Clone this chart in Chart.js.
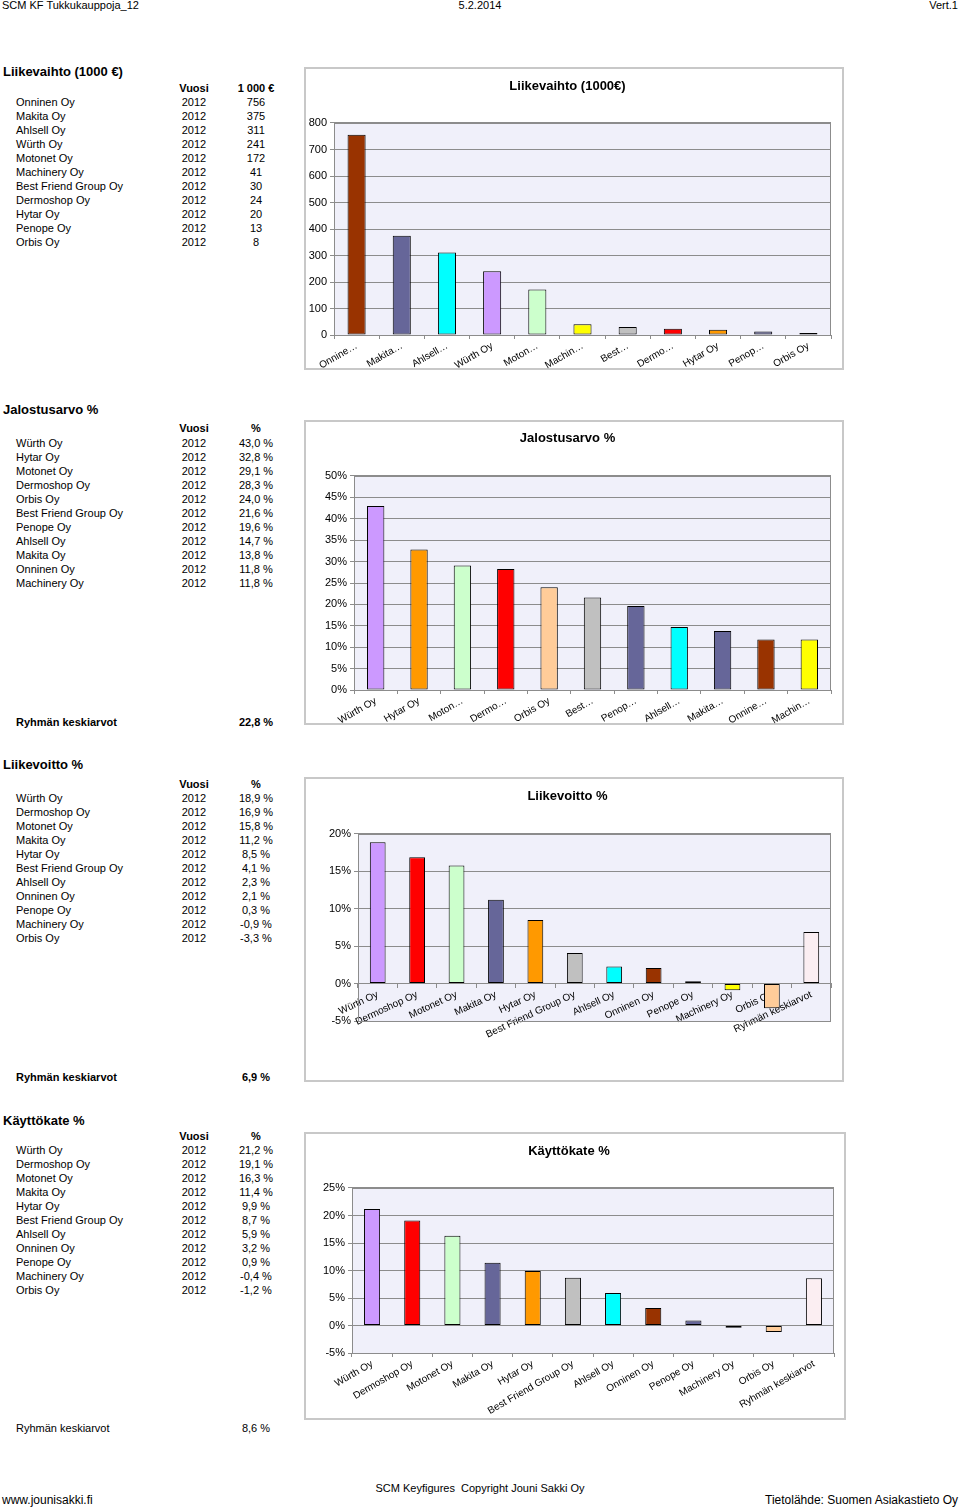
<!DOCTYPE html>
<html><head><meta charset="utf-8">
<script src="https://cdn.jsdelivr.net/npm/chart.js@4/dist/chart.umd.min.js"></script>
<style>
body{margin:0;width:960px;height:1508px;position:relative;background:#fff;font-family:"Liberation Sans",Arial,sans-serif;color:#000;overflow:hidden}
.t{position:absolute;white-space:pre;font-size:11px;line-height:14px}
.b{font-weight:bold}
.f{font-size:12px}
.h{font-weight:bold;font-size:13px;line-height:16px}
canvas{position:absolute}
</style></head><body>
<div id="texts"></div>
<canvas id="c1"></canvas><canvas id="c2"></canvas><canvas id="c3"></canvas><canvas id="c4"></canvas>
<script>
// ---------- data ----------
const yearValue = '2012';
const avgLabel = 'Ryhmän keskiarvot';

const lvNames  = ['Onninen Oy','Makita Oy','Ahlsell Oy','Würth Oy','Motonet Oy','Machinery Oy','Best Friend Group Oy','Dermoshop Oy','Hytar Oy','Penope Oy','Orbis Oy'];
const lvValues = [756,375,311,241,172,41,30,24,20,13,8];
const lvTicks  = ['Onnine…','Makita…','Ahlsell…','Würth Oy','Moton…','Machin…','Best…','Dermo…','Hytar Oy','Penop…','Orbis Oy'];
const lvYTicks = [0,800,100];

const jaNames  = ['Würth Oy','Hytar Oy','Motonet Oy','Dermoshop Oy','Orbis Oy','Best Friend Group Oy','Penope Oy','Ahlsell Oy','Makita Oy','Onninen Oy','Machinery Oy'];
const jaValues = [43.0,32.8,29.1,28.3,24.0,21.6,19.6,14.7,13.8,11.8,11.8];
const jaTicks  = ['Würth Oy','Hytar Oy','Moton…','Dermo…','Orbis Oy','Best…','Penop…','Ahlsell…','Makita…','Onnine…','Machin…'];
const jaAverage = 22.8;
const jaYTicks = [0,50,5];

const lvoNames  = ['Würth Oy','Dermoshop Oy','Motonet Oy','Makita Oy','Hytar Oy','Best Friend Group Oy','Ahlsell Oy','Onninen Oy','Penope Oy','Machinery Oy','Orbis Oy'];
const lvoValues = [18.9,16.9,15.8,11.2,8.5,4.1,2.3,2.1,0.3,-0.9,-3.3];
const lvoAverage = 6.9;
const lvoYTicks = [-5,20,5];

const kkNames  = ['Würth Oy','Dermoshop Oy','Motonet Oy','Makita Oy','Hytar Oy','Best Friend Group Oy','Ahlsell Oy','Onninen Oy','Penope Oy','Machinery Oy','Orbis Oy'];
const kkValues = [21.2,19.1,16.3,11.4,9.9,8.7,5.9,3.2,0.9,-0.4,-1.2];
const kkAverage = 8.6;
const kkYTicks = [-5,25,5];

// ---------- styles ----------
const companyColors = {
  'Würth Oy':'#cc99ff','Hytar Oy':'#ff9900','Motonet Oy':'#ccffcc','Dermoshop Oy':'#ff0000',
  'Orbis Oy':'#ffcc99','Best Friend Group Oy':'#c0c0c0','Penope Oy':'#666699','Ahlsell Oy':'#00ffff',
  'Makita Oy':'#666699','Onninen Oy':'#993300','Machinery Oy':'#ffff00','Ryhmän keskiarvot':'#fbeef2'
};
const FONT = '"Liberation Sans", Arial, sans-serif';

// ---------- text ----------
const T = document.getElementById('texts');
function txt(s, x, y, align, cls){
  const d = document.createElement('div');
  d.className = 't' + (cls ? ' ' + cls : '');
  d.textContent = s;
  const lh = (cls && cls.indexOf('h')>=0) ? 16 : 14;
  d.style.top = (y - lh/2) + 'px';
  if (align === 'center'){ d.style.left = (x-150)+'px'; d.style.width='300px'; d.style.textAlign='center'; }
  else if (align === 'right'){ d.style.right = (960-x)+'px'; }
  else d.style.left = x + 'px';
  T.appendChild(d);
}
const pctFmt = v => v.toFixed(1).replace('.', ',') + ' %';

txt('SCM KF Tukkukauppoja_12', 2, 5);
txt('5.2.2014', 480, 5, 'center');
txt('Vert.1', 958, 5, 'right');
txt('SCM Keyfigures  Copyright Jouni Sakki Oy', 480, 1488, 'center');
txt('www.jounisakki.fi', 2, 1500, null, 'f');
txt('Tietolähde: Suomen Asiakastieto Oy', 958, 1500, 'right', 'f');

function table(title, titleY, headY, valHead, rowY, names, vals, fmt, avg, avgY, avgBold){
  txt(title, 3, titleY, null, 'h');
  txt('Vuosi', 194, headY, 'center', 'b');
  txt(valHead, 256, headY, 'center', 'b');
  names.forEach((n,i)=>{
    const y = rowY + i*13.95;
    txt(n, 16, y);
    txt(yearValue, 194, y, 'center');
    txt(fmt(vals[i]), 256, y, 'center');
  });
  if (avg !== undefined){
    txt(avgLabel, 16, avgY, null, avgBold ? 'b' : '');
    txt(fmt(avg), 256, avgY, 'center', avgBold ? 'b' : '');
  }
}
table('Liikevaihto (1000 €)', 72, 88, '1 000 €', 102, lvNames, lvValues, v=>String(v));
table('Jalostusarvo %', 410, 428, '%', 443, jaNames, jaValues, pctFmt, jaAverage, 722, true);
table('Liikevoitto %', 765, 784, '%', 798, lvoNames, lvoValues, pctFmt, lvoAverage, 1077, true);
table('Käyttökate %', 1121, 1136, '%', 1150, kkNames, kkValues, pctFmt, kkAverage, 1428, false);

// ---------- charts ----------
Chart.defaults.font.family = FONT;
Chart.defaults.color = '#000';

const framePlugin = {
  id: 'frame',
  beforeDraw(chart){
    const {ctx, chartArea:a, width, height} = chart;
    ctx.save();
    ctx.fillStyle = '#fff'; ctx.fillRect(0,0,width,height);
    ctx.strokeStyle = '#c8c8c8'; ctx.lineWidth = 2; ctx.strokeRect(1,1,width-2,height-2);
    ctx.fillStyle = '#f0f0fa'; ctx.fillRect(a.left, a.top, a.right-a.left, a.bottom-a.top);
    ctx.restore();
  },
  beforeDatasetsDraw(chart){
    const {ctx, chartArea:a} = chart;
    ctx.save();
    ctx.strokeStyle = '#8c8c8c'; ctx.lineWidth = 1;
    ctx.strokeRect(Math.round(a.left)+0.5, Math.round(a.top)+0.5, Math.round(a.right-a.left)-1, Math.round(a.bottom-a.top));
    ctx.restore();
  }
};

function makeChart(id, box, plot, titleText, titleY, labels, values, colors, yt, pct, rot, xAtZero){
  const cv = document.getElementById(id);
  cv.width = box.r - box.l; cv.height = box.b - box.t;
  cv.style.left = box.l + 'px'; cv.style.top = box.t + 'px';
  const tt = titleY - box.t - 7.8;
  const tb = plot.t - box.t - tt - 15.6;
  return new Chart(cv, {
    type: 'bar',
    data: { labels, datasets: [{ data: values, backgroundColor: colors, borderColor: '#000', borderWidth: 1,
      borderSkipped: false, categoryPercentage: 1, barPercentage: 0.4 }] },
    options: {
      responsive: false, animation: false, devicePixelRatio: 1,
      layout: { padding: { left: 0, top: 0, right: box.r - plot.r, bottom: xAtZero ? box.b - plot.b : 0 } },
      plugins: {
        legend: { display: false }, tooltip: { enabled: false },
        title: { display: true, text: titleText, color: '#000',
          font: { family: FONT, size: 13, weight: 'bold', lineHeight: 1.2 },
          padding: { top: tt, bottom: tb } }
      },
      scales: {
        y: {
          min: yt[0], max: yt[1],
          ticks: { stepSize: yt[2], color: '#000', font: { size: 11 }, padding: 3,
            callback: v => pct ? v + '%' : v },
          grid: { color: '#8c8c8c', tickLength: 4 },
          border: { color: '#8c8c8c' },
          afterFit: s => { s.width = plot.l - box.l; }
        },
        x: {
          position: xAtZero ? { y: 0 } : 'bottom',
          ticks: { autoSkip: false, minRotation: rot, maxRotation: rot, color: '#000', font: { size: 10 }, padding: 1 },
          grid: { drawOnChartArea: false, offset: true, tickLength: 4, color: '#8c8c8c' },
          border: { color: '#8c8c8c' },
          afterFit: s => { if (!xAtZero) s.height = box.b - plot.b; }
        }
      }
    },
    plugins: [framePlugin]
  });
}

makeChart('c1', {l:304,t:67,r:844,b:370}, {l:334,t:123,r:831,b:335}, 'Liikevaihto (1000€)', 86,
  lvTicks, lvValues, lvNames.map(n=>companyColors[n]), lvYTicks, false, 30, false);
makeChart('c2', {l:304,t:420,r:844,b:725}, {l:354,t:476,r:831,b:690}, 'Jalostusarvo %', 438,
  jaTicks, jaValues, jaNames.map(n=>companyColors[n]), jaYTicks, true, 30, false);
const lvoLabels = lvoNames.concat([avgLabel]);
makeChart('c3', {l:304,t:777,r:844,b:1082}, {l:358,t:834,r:831,b:1021}, 'Liikevoitto %', 796,
  lvoLabels, lvoValues.concat([lvoAverage]), lvoLabels.map(n=>companyColors[n]), lvoYTicks, true, 25, true);
const kkLabels = kkNames.concat([avgLabel]);
makeChart('c4', {l:304,t:1132,r:846,b:1420}, {l:352,t:1188,r:834,b:1353}, 'Käyttökate %', 1151,
  kkLabels, kkValues.concat([kkAverage]), kkLabels.map(n=>companyColors[n]), kkYTicks, true, 30, false);
</script>
</body></html>
